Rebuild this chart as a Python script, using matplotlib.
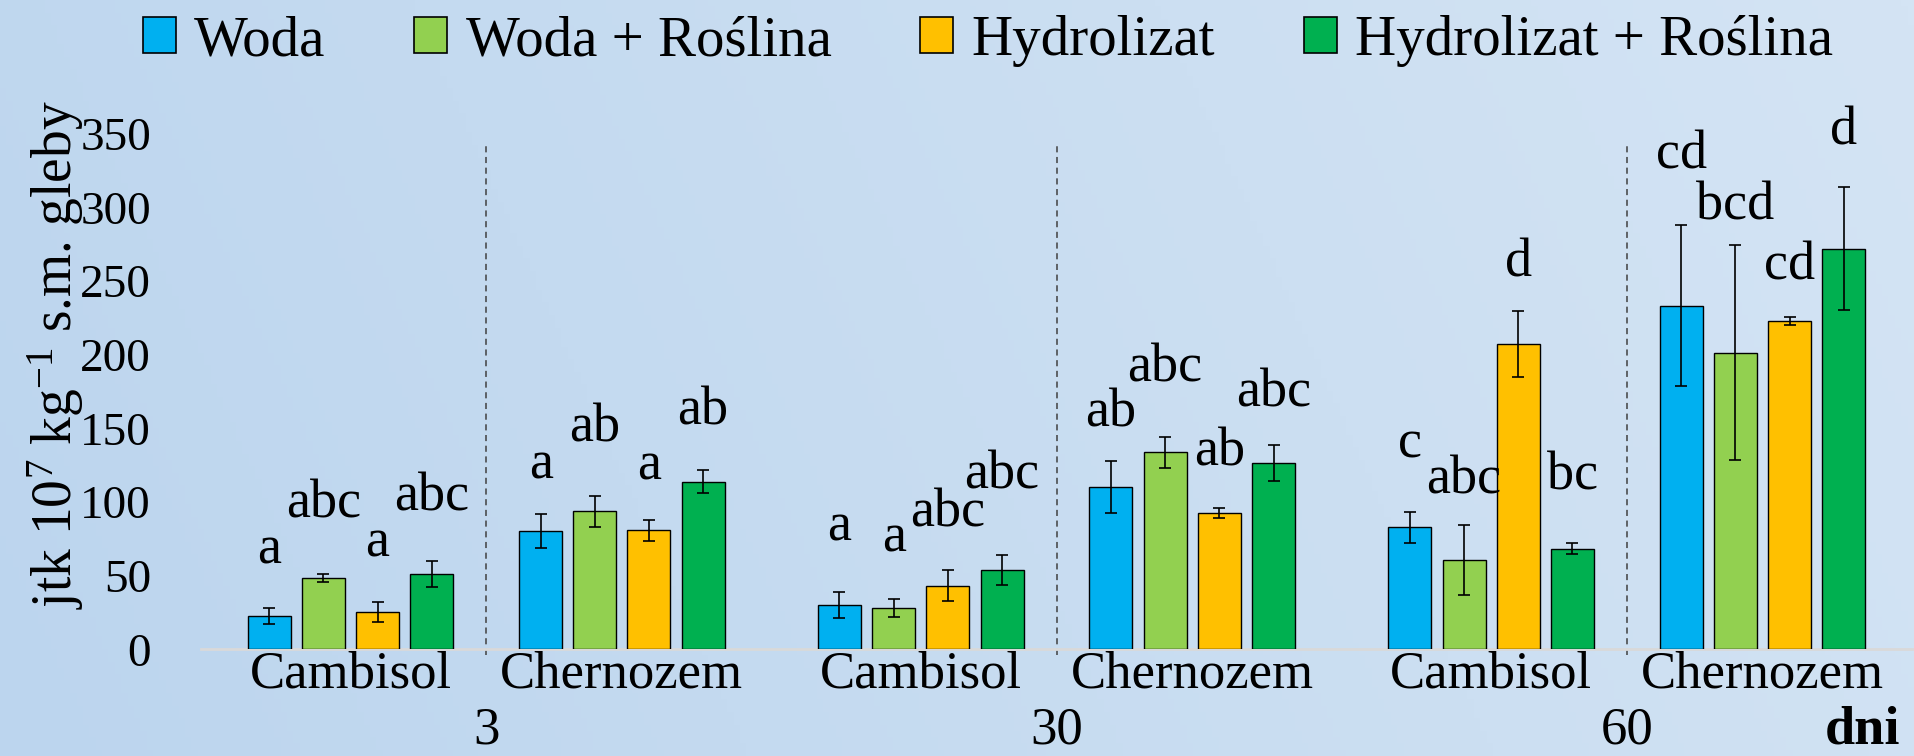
import numpy as np
import matplotlib
matplotlib.use("Agg")
import matplotlib.pyplot as plt
from matplotlib.colors import LinearSegmentedColormap
from matplotlib.patches import Patch

plt.rcParams['font.family'] = ['Liberation Serif', 'DejaVu Serif']
plt.rcParams['mathtext.fontset'] = 'custom'
plt.rcParams['mathtext.rm'] = 'Liberation Serif'
plt.rcParams['mathtext.it'] = 'Liberation Serif:italic'
plt.rcParams['mathtext.bf'] = 'Liberation Serif:bold'

# dane
days = ['3', '30', '60']
soils = ['Cambisol', 'Chernozem']
series = ['Woda', 'Woda + Roślina', 'Hydrolizat', 'Hydrolizat + Roślina']
colors = ['#00B0F0', '#92D050', '#FFC000', '#00B050']

# wartości w kolejności: (3, Cambisol), (3, Chernozem), (30, Cambisol), (30, Chernozem), (60, Cambisol), (60, Chernozem)
woda = [22.6, 80.3, 30.1, 110.2, 82.9, 233.5]
woda_rosl = [48.4, 93.7, 28.3, 133.7, 60.6, 201.5]
hydro = [25.5, 80.8, 43.2, 92.8, 207.3, 222.8]
hydro_rosl = [51.0, 113.8, 54.1, 126.7, 68.4, 272.0]

woda_err = [5.6, 11.8, 8.6, 17.4, 10.4, 54.4]
woda_rosl_err = [2.9, 10.5, 6.2, 10.5, 24.0, 73.1]
hydro_err = [6.8, 7.0, 10.6, 3.4, 22.3, 2.7]
hydro_rosl_err = [9.0, 7.9, 10.2, 12.3, 3.6, 41.8]

woda_lit = ['a', 'a', 'a', 'ab', 'c', 'cd']
woda_rosl_lit = ['abc', 'ab', 'a', 'abc', 'abc', 'bcd']
hydro_lit = ['a', 'a', 'abc', 'ab', 'd', 'cd']
hydro_rosl_lit = ['abc', 'ab', 'abc', 'abc', 'bc', 'd']

# wysokość liter (linia bazowa)
woda_lit_y = [58.3, 116, 74.2, 151.1, 130.2, 326.6]
woda_rosl_lit_y = [89.5, 141, 66.3, 182.1, 106, 292]
hydro_lit_y = [62.7, 115, 83.3, 125.1, 253, 251.5]
hydro_rosl_lit_y = [94.3, 152.7, 109.3, 164.7, 108.4, 343]

vals = [woda, woda_rosl, hydro, hydro_rosl]
errs = [woda_err, woda_rosl_err, hydro_err, hydro_rosl_err]
lits = [woda_lit, woda_rosl_lit, hydro_lit, hydro_rosl_lit]
lits_y = [woda_lit_y, woda_rosl_lit_y, hydro_lit_y, hydro_rosl_lit_y]

fig = plt.figure(figsize=(19.14, 7.56), dpi=100)

# tło gradientowe
bg = fig.add_axes([0, 0, 1, 1], zorder=-10)
gx, gy = np.meshgrid(np.linspace(0, 1, 300), np.linspace(0, 1, 120))
grad = 0.85 * gx + 0.15 * gy
cmap = LinearSegmentedColormap.from_list('bg', ['#BCD5EE', '#D4E4F4'])
bg.imshow(grad, cmap=cmap, aspect='auto', extent=[0, 1, 0, 1], origin='lower')
bg.axis('off')

ax = fig.add_axes([201 / 1914, 1 - 649.3 / 756, 1711 / 1914, 515.3 / 756])
ax.set_facecolor('none')

day_x = np.arange(len(days))
soil_off = [-0.238, 0.238]
step = 0.095
width = 0.0754

group_x = np.array([d + s for d in day_x for s in soil_off])

for i in range(4):
    x = group_x + (i - 1.5) * step
    ax.bar(x, vals[i], width, color=colors[i], edgecolor='black', linewidth=1.0,
           yerr=errs[i], error_kw=dict(ecolor='black', elinewidth=1.2, capsize=4.5, capthick=1.2),
           zorder=3)
    for xx, t, yy in zip(x, lits[i], lits_y[i]):
        ax.text(xx, yy, t, ha='center', va='baseline', fontsize=39, zorder=5, clip_on=False)

ax.set_xlim(-0.5, 2.5)
ax.set_ylim(0, 350)
ax.set_yticks(np.arange(0, 351, 50))
ax.tick_params(axis='y', length=0, pad=36, labelsize=34)
ax.set_xticks([])
for s in ['top', 'right', 'left']:
    ax.spines[s].set_visible(False)
ax.spines['bottom'].set_color('#D9D9D9')
ax.spines['bottom'].set_linewidth(2)

# linie przerywane
ax.vlines(day_x, -4, 344, colors='#404040', linestyles=(0, (4, 3)), linewidth=1.1,
          clip_on=False, zorder=2)

xt = ax.get_xaxis_transform()
for k, gx_ in enumerate(group_x):
    ax.text(gx_, -0.075, soils[k % 2], transform=xt, ha='center', va='baseline', fontsize=38)
for d, lab in zip(day_x, days):
    ax.text(d, -0.182, lab, transform=xt, ha='center', va='baseline', fontsize=38)

fig.text(1900 / 1914, 1 - 743 / 756, 'dni', ha='right', va='baseline', fontsize=39, fontweight='bold')

fig.text(56 / 1914, 1 - 355 / 756, r'jtk 10$^{7}$ kg$^{-1}$ s.m. gleby', rotation=90,
         ha='center', va='center', fontsize=40)

handles = [Patch(facecolor=c, edgecolor='black', linewidth=1.2) for c in colors]
fig.legend(handles, series, loc='center left', bbox_to_anchor=(143 / 1914, 1 - 41 / 756),
           bbox_transform=fig.transFigure, ncol=4, frameon=False, fontsize=41,
           handlelength=0.58, handleheight=0.58, handletextpad=0.32, columnspacing=1.56,
           borderpad=0, borderaxespad=0)

fig.savefig('out.png', dpi=100)
